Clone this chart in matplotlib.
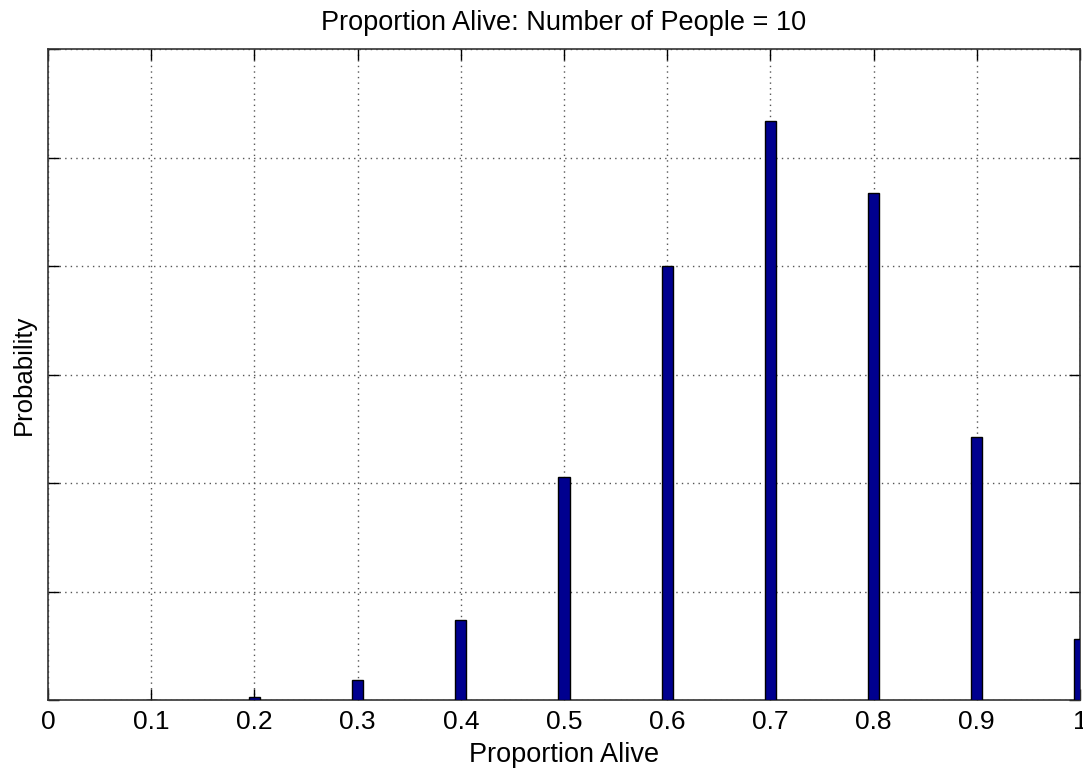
import matplotlib
matplotlib.use("Agg")
import matplotlib.pyplot as plt

proportion = [0.1, 0.2, 0.3, 0.4, 0.5, 0.6, 0.7, 0.8, 0.9, 1.0]
probability = [0.00014, 0.0015, 0.009, 0.0368, 0.1029, 0.2001, 0.2668, 0.2335, 0.1211, 0.0282]
xticks = [0, 0.1, 0.2, 0.3, 0.4, 0.5, 0.6, 0.7, 0.8, 0.9, 1]
xticklabels = ["0", "0.1", "0.2", "0.3", "0.4", "0.5", "0.6", "0.7", "0.8", "0.9", "1"]
yticks = [0, 0.05, 0.1, 0.15, 0.2, 0.25, 0.3]

plt.rcParams['font.family'] = ['Liberation Sans', 'DejaVu Sans']

fig = plt.figure(figsize=(10.83, 7.71), dpi=100)
ax = fig.add_axes([48/1083, 1 - 700/771, (1080-48)/1083, (700-49)/771])

ax.bar(proportion, probability, width=0.011, color=(0, 0, 0.56), edgecolor='black', linewidth=1.0, zorder=3)

ax.set_xlim(0, 1)
ax.set_ylim(0, 0.3)
ax.set_xticks(xticks)
ax.set_xticklabels(xticklabels, fontsize=19)
ax.set_yticks(yticks)
ax.set_yticklabels([])
ax.tick_params(direction='in', length=8, width=1, top=True, right=True, pad=7)
ax.grid(True, linestyle=(0, (1, 3)), color='#555555', linewidth=1.0, zorder=0)
for s in ax.spines.values():
    s.set_linewidth(1.2)
    s.set_color('#333333')

ax.set_title("Proportion Alive: Number of People = 10", fontsize=19.5, pad=14)
ax.set_xlabel("Proportion Alive", fontsize=19.5, labelpad=6)
ax.set_ylabel("Probability", fontsize=18.5, labelpad=2)

fig.savefig("out.png", dpi=100)
